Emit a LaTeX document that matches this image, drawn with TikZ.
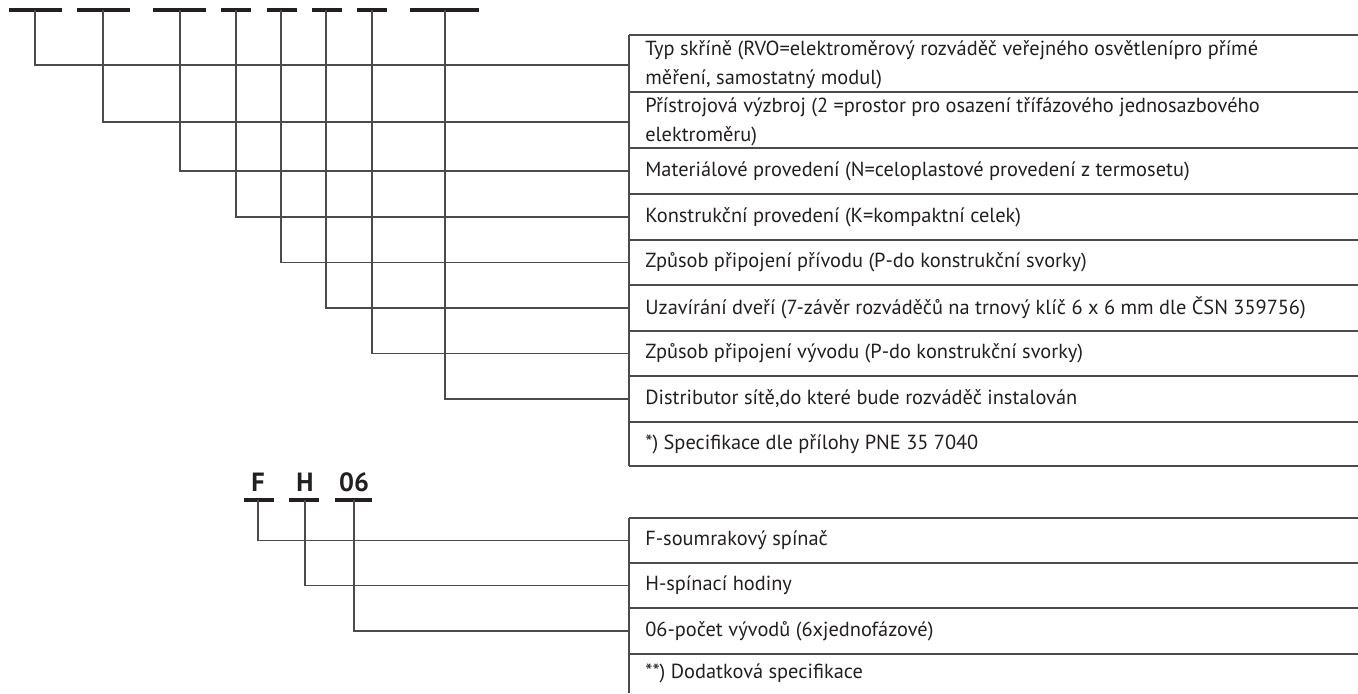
\documentclass[tikz,border=0pt]{standalone}
\usepackage{fontspec}
\setmainfont{PT Sans}
\usetikzlibrary{positioning}
\definecolor{inkgray}{RGB}{35,31,32}
\definecolor{rulegray}{RGB}{75,75,75}

\begin{document}
\begin{tikzpicture}[x=0.02cm, y=-0.02cm,
    row/.style={anchor=west, inner xsep=0.32cm, inner ysep=0pt, align=left,
                font=\fontsize{11.6}{16.5}\selectfont, text=inkgray},
    bar/.style={draw=inkgray, line width=2pt},
    lead/.style={draw=rulegray, line width=0.7pt},
    tabline/.style={draw=rulegray, line width=0.8pt},
    code/.style={font=\fontsize{15}{17}\selectfont\bfseries, text=inkgray, inner sep=0pt}
]
    \useasboundingbox (0,0) rectangle (1358,693);

    % upper table
    \foreach \y in {35,92,148,194,240,285,331,376,422,466}
        \draw[tabline] (629,\y) -- (1358,\y);
    \draw[tabline] (629,35) -- (629,466);

    \node[row] (r1) at (629,65) {Typ skříně (RVO=elektroměrový rozváděč veřejného osvětlenípro přímé\\měření, samostatný modul)};
    \node[row] (r2) at (629,122) {Přístrojová výzbroj (2 =prostor pro osazení třífázového jednosazbového\\elektroměru)};
    \node[row] (r3) at (629,171) {Materiálové provedení (N=celoplastové provedení z termosetu)};
    \node[row] (r4) at (629,217) {Konstrukční provedení (K=kompaktní celek)};
    \node[row] (r5) at (629,262.5) {Způsob připojení přívodu (P-do konstrukční svorky)};
    \node[row] (r6) at (629,308) {Uzavírání dveří (7-závěr rozváděčů na trnový klíč 6 x 6 mm dle ČSN 359756)};
    \node[row] (r7) at (629,353.5) {Způsob připojení vývodu (P-do konstrukční svorky)};
    \node[row] (r8) at (629,399) {Distributor sítě,do které bude rozváděč instalován};
    \node[row] (r9) at (629,444) {*) Specifikace dle přílohy PNE 35 7040};

    \foreach \a/\b/\c [count=\i] in {9/62/35, 77/130/103, 153/206/180, 221/251/236,
                                      267/297/281, 312/342/326, 357/387/372, 410/479/445} {
        \draw[bar] (\a,10) -- (\b,10);
        \coordinate (c\i) at (\c,10);
    }
    \foreach \i in {1,...,8}
        \draw[lead] (c\i) |- (r\i.west);

    % lower table
    \foreach \y in {518,563,608,654}
        \draw[tabline] (629,\y) -- (1358,\y);
    \draw[tabline] (629,518) -- (629,693);

    \node[row] (s1) at (629,540.5) {F-soumrakový spínač};
    \node[row] (s2) at (629,585.5) {H-spínací hodiny};
    \node[row] (s3) at (629,631) {06-počet vývodů (6xjednofázové)};
    \node[row] (s4) at (629,673.5) {**) Dodatková specifikace};

    \node[code] (kf) at (258,482) {F};
    \node[code] (kh) at (305,482) {H};
    \node[code] (k06) at (354,482) {06};

    \foreach \a/\b/\c [count=\i] in {244/274/258, 289/319/305, 335/372/354} {
        \draw[bar] (\a,500) -- (\b,500);
        \coordinate (d\i) at (\c,500);
    }
    \foreach \i in {1,2,3}
        \draw[lead] (d\i) |- (s\i.west);
\end{tikzpicture}
\end{document}
